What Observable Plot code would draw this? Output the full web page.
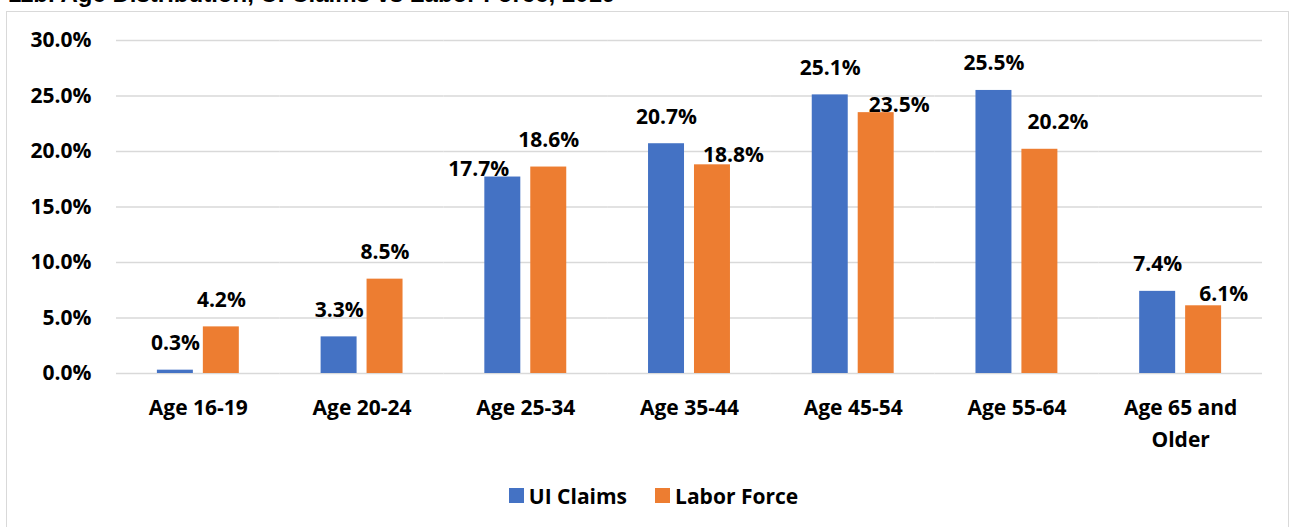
<!DOCTYPE html>
<html>
<head>
<meta charset="utf-8">
<script src="https://cdn.jsdelivr.net/npm/d3@7"></script>
<script src="https://cdn.jsdelivr.net/npm/@observablehq/plot@0.6"></script>
<style>
  html, body { margin: 0; padding: 0; background: #fff; }
  body { width: 1291px; height: 527px; overflow: hidden; position: relative; font-family: "Open Sans", sans-serif; }
  #title { position: absolute; left: 8px; top: -20px; font: bold 24px "Liberation Sans", Arial, sans-serif; line-height: 28px; white-space: nowrap; color: #000; }
  #frame { position: absolute; left: 6px; top: 11px; width: 1281px; height: 600px; border: 1.5px solid #d9d9d9; }
  #chart { position: absolute; left: 0; top: 0; }
  #legend { position: absolute; left: 8px; top: 479px; width: 1291px; display: flex; justify-content: center; }
  .lg-swatches-wrap { min-height: 33px !important; margin: 0 !important; }
  .lg-swatches { font: bold 21px "Open Sans", sans-serif !important; color: #000; }
  .lg-swatch { margin-right: 28px !important; }
  .lg-swatch:last-child { margin-right: 0 !important; }
  .lg-swatch > svg { margin-right: 5px !important; }
</style>
</head>
<body>
<div id="title">11b. Age Distribution, UI Claims vs Labor Force, 2019</div>
<div id="frame"></div>
<div id="chart"></div>
<div id="legend"></div>
<script>
// ---- data ----
const categories = ["Age 16-19", "Age 20-24", "Age 25-34", "Age 35-44", "Age 45-54", "Age 55-64", "Age 65 and Older"];
const series = ["UI Claims", "Labor Force"];
const uiClaims = [0.3, 3.3, 17.7, 20.7, 25.1, 25.5, 7.4];
const laborForce = [4.2, 8.5, 18.6, 18.8, 23.5, 20.2, 6.1];
const yTicks = [0, 5, 10, 15, 20, 25, 30];
const colors = ["#4472C4", "#ED7D31"];

// ---- layout: label nudges [dx, dy] in px, mimicking the spreadsheet's label placement ----
const uiNudge = [[0,0],[0,0],[-24,19],[0,0],[0,0],[0,0],[0,0]];
const lfNudge = [[0,0],[0,0],[0,0],[21,17],[23,19],[18,0],[20,15]];

const rows = categories.flatMap((c, i) => [
  {cat: c, series: series[0], value: uiClaims[i], nudge: uiNudge[i]},
  {cat: c, series: series[1], value: laborForce[i], nudge: lfNudge[i]}
]);

const fmt = v => v.toFixed(1) + "%";
const font = '"Open Sans", sans-serif';

const labelMarks = rows.map(d => Plot.text([d], {
  fx: "cat", x: "series", y: "value",
  text: r => fmt(r.value),
  lineAnchor: "bottom",
  dx: d.nudge[0], dy: -20 + d.nudge[1],
  fontSize: 21, fontWeight: "bold", fill: "#000"
}));

const chart = Plot.plot({
  width: 1291,
  height: 460,
  marginLeft: 116,
  marginRight: 29,
  marginTop: 40,
  marginBottom: 87,
  style: {fontFamily: font, fontSize: "21px", fontWeight: "bold", color: "#000", background: "transparent", overflow: "visible"},
  fx: {domain: categories, padding: 0, round: false, axis: null},
  x: {domain: series, paddingInner: 0.217, paddingOuter: 0.89, round: false, axis: null},
  y: {domain: [0, 30], axis: null},
  color: {domain: series, range: colors},
  marks: [
    Plot.ruleY(yTicks, {stroke: "#d9d9d9", strokeWidth: 1.3}),
    Plot.axisY({ticks: yTicks, tickSize: 0, tickPadding: 25, tickFormat: fmt, label: null, fontSize: 21, fontWeight: "bold", fill: "#000"}),
    Plot.axisFx({anchor: "bottom", tickSize: 0, tickPadding: 18, label: null, lineHeight: 1.55,
      tickFormat: d => d.replace(" and ", " and\n"), fontSize: 21, fontWeight: "bold", fill: "#000"}),
    Plot.barY(rows, {fx: "cat", x: "series", y: "value", fill: "series"}),
    ...labelMarks
  ]
});
document.getElementById("chart").appendChild(chart);

const legend = Plot.legend({
  color: {domain: series, range: colors},
  legend: "swatches",
  swatchSize: 15,
  className: "lg"
});
document.getElementById("legend").appendChild(legend);
</script>
</body>
</html>
